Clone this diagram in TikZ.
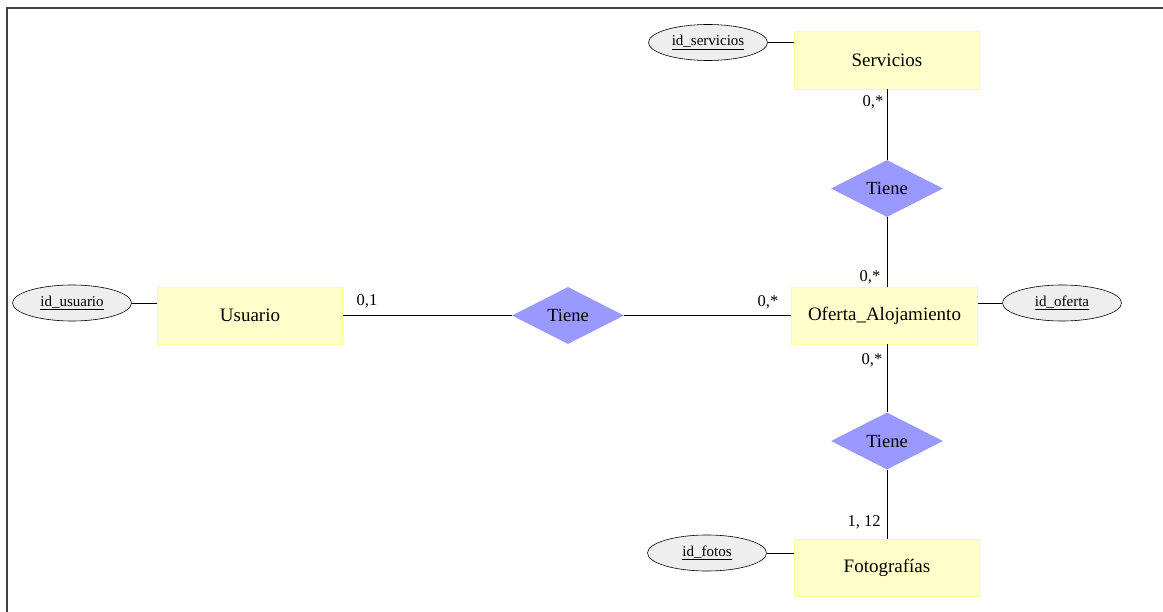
\documentclass[tikz,border=0pt]{standalone}
\usepackage{fontspec}
\setmainfont{Liberation Serif}
\usetikzlibrary{shapes.geometric}
\definecolor{entfill}{HTML}{FFFFCC}
\definecolor{entdraw}{HTML}{FFFF99}
\definecolor{relfill}{HTML}{9999FF}
\definecolor{attfill}{HTML}{EEEEEE}
\begin{document}
\begin{tikzpicture}[x=1pt,y=-1pt,
  entity/.style={rectangle, fill=entfill, draw=entdraw, line width=0.8pt, minimum width=185pt, minimum height=57pt, inner sep=0pt, font=\fontsize{19}{23}\selectfont},
  rel/.style={diamond, fill=relfill, inner sep=0pt, minimum width=112pt, minimum height=57pt, font=\fontsize{18.5}{22}\selectfont},
  attr/.style={ellipse, fill=attfill, draw=black, line width=0.6pt, minimum width=119pt, minimum height=36pt, inner sep=0pt, font=\fontsize{15}{18}\selectfont},
  card/.style={inner sep=0pt, font=\fontsize{16.5}{20}\selectfont},
  conn/.style={draw=black, line width=0.8pt}]
\useasboundingbox (0,0) rectangle (1163,612);
\draw[black!75, line width=1.6pt] (7,612) -- (7,8) -- (1163,8);

% entities
\node[entity] (us) at (250,315.5) {Usuario};
\node[entity, minimum width=186pt] (of) at (884.5,315.5) {Oferta\_Alojamiento};
\node[entity, minimum height=58pt] (se) at (887,60) {Servicios};
\node[entity] (fo) at (887,568) {Fotografías};

% relations
\node[rel] (r1) at (568,315.5) {Tiene};
\node[rel] (r2) at (887,188.5) {Tiene};
\node[rel] (r3) at (887,441) {Tiene};

% attributes
\node[attr] (au) at (72,303) {\underline{id\_usuario}};
\node[attr] (ao) at (1062,303) {\underline{id\_oferta}};
\node[attr] (as) at (708,42.5) {\underline{id\_servicios}};
\node[attr] (af) at (707,553) {\underline{id\_fotos}};

% attribute links
\draw[conn] (au.east) -- (au.east -| us.west);
\draw[conn] (ao.west) -- (ao.west -| of.east);
\draw[conn] (as.east) -- (as.east -| se.west);
\draw[conn] (af.east) -- (af.east -| fo.west);

% relation links
\draw[conn] (us.east) -- (r1.west);
\draw[conn] (r1.east) -- (of.west);
\draw[conn] (se.south) -- (r2.north);
\draw[conn] (r2.south) -- (r2.south |- of.north);
\draw[conn] (r3.north |- of.south) -- (r3.north);
\draw[conn] (r3.south) -- (fo.north);

% cardinalities
\node[card] (c1) at (367,301) {0,1};
\node[card] (c2) at (768,302) {0,*};
\node[card] (c3) at (873,102) {0,*};
\node[card] (c4) at (870,277) {0,*};
\node[card] (c5) at (872,360) {0,*};
\node[card] (c6) at (864,522) {1, 12};
\end{tikzpicture}
\end{document}
